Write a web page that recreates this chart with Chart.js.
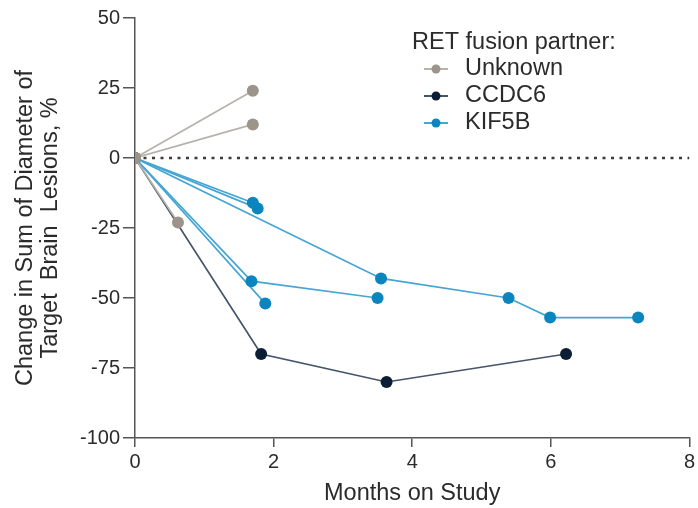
<!DOCTYPE html>
<html>
<head>
<meta charset="utf-8">
<script src="https://cdn.jsdelivr.net/npm/chart.js@4.4.1/dist/chart.umd.min.js"></script>
<style>
  html, body { margin: 0; padding: 0; background: #fff; }
  #wrap { position: relative; width: 698px; height: 508px; }
</style>
</head>
<body>
<div id="wrap"><canvas id="chart" width="698" height="508"></canvas></div>
<script>
// Months on study vs. change in brain lesion diameter (%), one line per patient
const unknownLines = [
    [[0, 0], [1.7, 24]],
    [[0, 0], [1.7, 12]],
    [[0, 0], [0.62, -23]]
];
const ccdc6Lines = [
    [[0, 0], [1.82, -70], [3.63, -80], [6.22, -70]]
];
const kif5bLines = [
    [[0, 0], [1.7, -16]],
    [[0, 0], [1.77, -18]],
    [[0, 0], [3.55, -43], [5.39, -50], [5.99, -57], [7.26, -57]],
    [[0, 0], [1.68, -44], [3.5, -50]],
    [[0, 0], [1.88, -52]]
];
const zeroLine = [[0, 0], [8, 0]];

const xTicks = [0, 2, 4, 6, 8];
const yTicks = [-100, -75, -50, -25, 0, 25, 50];

const legendItems = [
    { label: 'Unknown', line: '#b7b2ac', point: '#9c938b' },
    { label: 'CCDC6', line: '#44546a', point: '#0b1e34' },
    { label: 'KIF5B', line: '#45a6d5', point: '#0a85bd' }
];

const FONT = "'Liberation Sans', Arial, sans-serif";
const AXIS = '#555555';
const TEXT = '#2b2b2b';

function toPts(arr) {
    return arr.map(p => ({ x: p[0], y: p[1] }));
}

function makeSets(lines, style) {
    return lines.map(l => ({
        data: toPts(l),
        borderColor: style.line,
        backgroundColor: style.point,
        pointBackgroundColor: style.point,
        pointBorderColor: style.point,
        borderWidth: 1.7,
        pointRadius: 6,
        pointHoverRadius: 6,
        pointBorderWidth: 0,
        tension: 0
    }));
}

// dataset 0 is painted last (on top), so the grey series go first
const datasets = [
    ...makeSets(unknownLines, legendItems[0]),
    ...makeSets(ccdc6Lines, legendItems[1]),
    ...makeSets(kif5bLines, legendItems[2]),
    {
        data: toPts(zeroLine),
        borderColor: '#3a3a3a',
        borderWidth: 2.5,
        borderDash: [3, 5.5],
        pointRadius: 0
    }
];

// Legend drawn on canvas: title + line-with-marker swatches
const legendPlugin = {
    id: 'customLegend',
    afterDraw(chart) {
        const c = chart.ctx;
        c.save();
        c.fillStyle = TEXT;
        c.font = '23.5px ' + FONT;
        c.textBaseline = 'middle';
        c.textAlign = 'left';
        c.fillText('RET fusion partner:', 412, 43);
        legendItems.forEach((it, i) => {
            const y = 69 + i * 27;
            c.strokeStyle = it.line;
            c.lineWidth = 2;
            c.beginPath();
            c.moveTo(424, y);
            c.lineTo(448, y);
            c.stroke();
            c.fillStyle = it.point;
            c.beginPath();
            c.arc(436, y, 4.5, 0, Math.PI * 2);
            c.fill();
            c.fillStyle = TEXT;
            c.fillText(it.label, 465, y);
        });
        c.restore();
    }
};

new Chart(document.getElementById('chart').getContext('2d'), {
    type: 'line',
    data: { datasets: datasets },
    options: {
        responsive: false,
        animation: false,
        layout: { padding: { top: 18, right: 6, left: 0, bottom: 0 } },
        plugins: {
            legend: { display: false },
            tooltip: { enabled: false }
        },
        scales: {
            x: {
                type: 'linear',
                min: 0,
                max: 8,
                afterBuildTicks: axis => { axis.ticks = xTicks.map(v => ({ value: v })); },
                afterFit: scale => { scale.height = 70; },
                ticks: { color: TEXT, font: { family: FONT, size: 20 }, padding: 3, maxRotation: 0 },
                grid: { drawOnChartArea: false, drawTicks: true, tickLength: 9, color: AXIS, lineWidth: 1.5 },
                border: { display: true, color: AXIS, width: 1.5 },
                title: {
                    display: true,
                    text: 'Months on Study',
                    color: TEXT,
                    font: { family: FONT, size: 23.5, lineHeight: 1.2 },
                    padding: { top: 0, bottom: 0 }
                }
            },
            y: {
                type: 'linear',
                min: -100,
                max: 50,
                afterBuildTicks: axis => { axis.ticks = yTicks.map(v => ({ value: v })); },
                afterFit: scale => { scale.width = 135; },
                ticks: { color: TEXT, font: { family: FONT, size: 20 }, padding: 3 },
                grid: { drawOnChartArea: false, drawTicks: true, tickLength: 12, color: AXIS, lineWidth: 1.5 },
                border: { display: true, color: AXIS, width: 1.5 },
                title: {
                    display: true,
                    text: ['Change in Sum of Diameter of', 'Target  Brain  Lesions, %'],
                    color: TEXT,
                    font: { family: FONT, size: 23.5, lineHeight: 1.07 },
                    padding: { top: 12.5, bottom: 0 }
                }
            }
        }
    },
    plugins: [legendPlugin]
});
</script>
</body>
</html>
